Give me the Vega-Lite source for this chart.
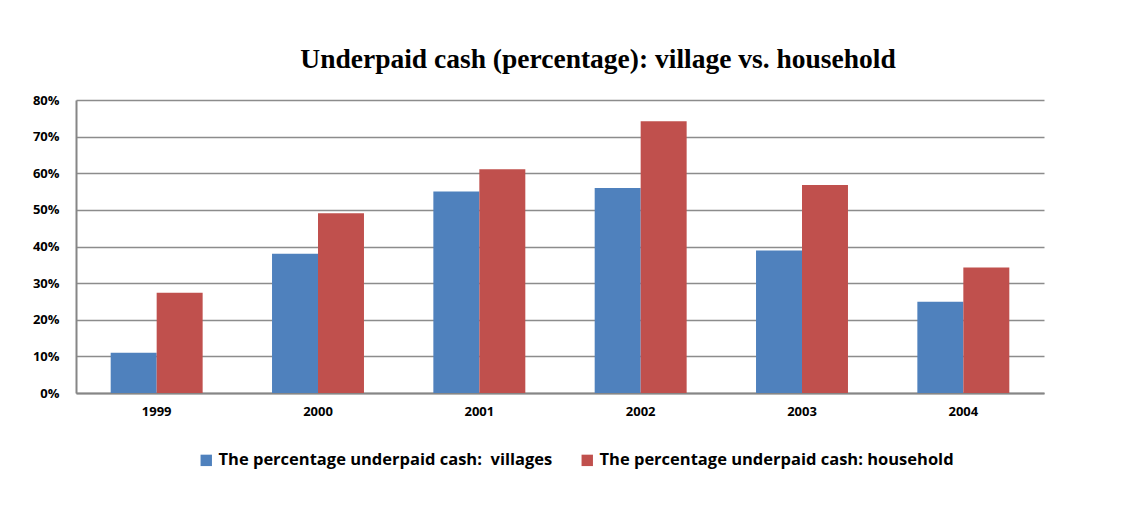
{
  "$schema": "https://vega.github.io/schema/vega-lite/v6.json",
  "autosize": {"type": "none"},
  "padding": {"left": 76, "top": 100, "right": 79, "bottom": 120},
  "width": 968,
  "height": 293,
  "background": "white",
  "title": {
    "text": "Underpaid cash (percentage): village vs. household",
    "font": "Liberation Serif",
    "fontSize": 27.5,
    "fontWeight": "bold",
    "color": "#000000",
    "anchor": "middle",
    "dx": 38,
    "offset": 21
  },
  "data": {
    "values": [
      {"year": "1999", "series": "The percentage underpaid cash:\u00a0 villages", "value": 0.11},
      {"year": "1999", "series": "The percentage underpaid cash: household", "value": 0.274},
      {"year": "2000", "series": "The percentage underpaid cash:\u00a0 villages", "value": 0.38},
      {"year": "2000", "series": "The percentage underpaid cash: household", "value": 0.491},
      {"year": "2001", "series": "The percentage underpaid cash:\u00a0 villages", "value": 0.55},
      {"year": "2001", "series": "The percentage underpaid cash: household", "value": 0.611},
      {"year": "2002", "series": "The percentage underpaid cash:\u00a0 villages", "value": 0.56},
      {"year": "2002", "series": "The percentage underpaid cash: household", "value": 0.742},
      {"year": "2003", "series": "The percentage underpaid cash:\u00a0 villages", "value": 0.389},
      {"year": "2003", "series": "The percentage underpaid cash: household", "value": 0.568},
      {"year": "2004", "series": "The percentage underpaid cash:\u00a0 villages", "value": 0.249},
      {"year": "2004", "series": "The percentage underpaid cash: household", "value": 0.343}
    ]
  },
  "mark": {"type": "bar"},
  "encoding": {
    "x": {
      "field": "year",
      "type": "nominal",
      "scale": {"paddingInner": 0.43, "paddingOuter": 0.215},
      "axis": {
        "title": null,
        "labelAngle": 0,
        "labelFont": "Open Sans",
        "labelFontSize": 13,
        "labelFontWeight": "bold",
        "labelColor": "#000000",
        "labelPadding": 12,
        "ticks": false,
        "domainColor": "#868686",
        "domainWidth": 2,
        "grid": false
      }
    },
    "xOffset": {
      "field": "series",
      "type": "nominal",
      "sort": ["The percentage underpaid cash:\u00a0 villages", "The percentage underpaid cash: household"],
      "scale": {"paddingInner": 0, "paddingOuter": 0}
    },
    "y": {
      "field": "value",
      "type": "quantitative",
      "scale": {"domain": [0, 0.8], "nice": false},
      "axis": {
        "title": null,
        "format": ".0%",
        "values": [0, 0.1, 0.2, 0.3, 0.4, 0.5, 0.6, 0.7, 0.8],
        "labelOverlap": false,
        "labelFont": "Open Sans",
        "labelFontSize": 13,
        "labelFontWeight": "bold",
        "labelColor": "#000000",
        "labelPadding": 17,
        "ticks": false,
        "domainColor": "#868686",
        "domainWidth": 2,
        "gridColor": "#8c8c8c",
        "gridWidth": 1.3
      }
    },
    "color": {
      "field": "series",
      "type": "nominal",
      "sort": ["The percentage underpaid cash:\u00a0 villages", "The percentage underpaid cash: household"],
      "scale": {"range": ["#4F81BD", "#C0504D"]},
      "legend": {
        "title": null,
        "orient": "none",
        "direction": "horizontal",
        "legendX": 122,
        "legendY": 352,
        "symbolType": "square",
        "symbolSize": 130,
        "symbolStrokeWidth": 0,
        "labelFont": "Open Sans",
        "labelFontSize": 16.5,
        "labelFontWeight": "bold",
        "labelColor": "#000000",
        "labelLimit": 500,
        "columnPadding": 26,
        "labelOffset": 4
      }
    }
  },
  "config": {
    "view": {"stroke": null}
  }
}
